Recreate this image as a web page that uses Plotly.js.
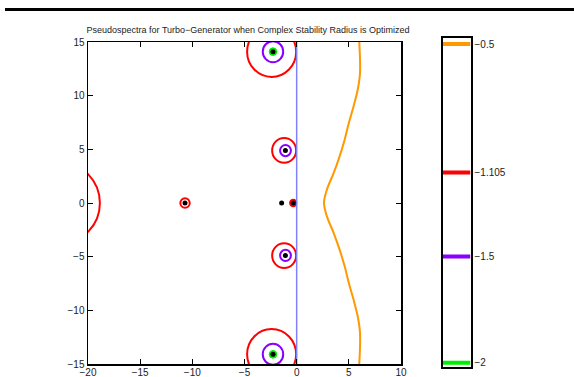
<!DOCTYPE html>
<html>
<head>
<meta charset="utf-8">
<script src="https://cdn.plot.ly/plotly-3.0.1.min.js"></script>
<style>
  html, body { margin: 0; padding: 0; background: #fff; }
  #chart { width: 574px; height: 377px; }
</style>
</head>
<body>
<div id="chart"></div>
<script>
// Contour levels (log10 of epsilon) and their colours
const levels = [-0.5, -1.105, -1.5, -2];
const levelLabels = ['\u22120.5', '\u22121.105', '\u22121.5', '\u22122'];
const levelColors = ['#ff9900', '#ff0000', '#8800ff', '#00ee00'];

// Eigenvalues of the closed-loop turbo-generator model
const eigRe = [-2.27, -2.27, -1.08, -1.08, -10.7, -1.44, -0.33];
const eigIm = [14.1, -14.1, 4.88, -4.88, 0, 0, 0];

// Small closed contours around eigenvalues: centre (re, im) and radius, per level
const redRe  = [-2.4, -2.4, -1.2, -1.2, -10.7, -0.33, -22.6];
const redIm  = [14.1, -14.1, 4.9, -4.9, 0, 0, 0];
const redR   = [2.35, 2.35, 1.15, 1.15, 0.45, 0.3, 3.74];

const purpleRe = [-2.27, -2.27, -1.07, -1.07];
const purpleIm = [14.1, -14.1, 4.88, -4.88];
const purpleR  = [0.98, 0.98, 0.52, 0.52];

const greenRe = [-2.27, -2.27];
const greenIm = [14.1, -14.1];
const greenR  = [0.36, 0.36];

// Outer epsilon = 10^-0.5 boundary
const orangeRe = [6.0, 6.07, 5.85, 5.45, 5.0, 4.6, 4.1, 3.55, 2.9, 2.62,
                  2.9, 3.55, 4.1, 4.6, 5.0, 5.45, 5.85, 6.07, 6.0];
const orangeIm = [15, 12.1, 10.55, 9.0, 7.45, 5.9, 4.3, 2.8, 1.25, 0,
                  -1.25, -2.8, -4.3, -5.9, -7.45, -9.0, -10.55, -12.1, -15];

// Imaginary axis
const axisRe = [0, 0];
const axisIm = [-15, 15];

const xTicks = [-20, -15, -10, -5, 0, 5, 10];
const yTicks = [-15, -10, -5, 0, 5, 10, 15];

const W = 574, H = 377;
const font = { family: 'Liberation Sans, Arial, Helvetica, sans-serif', size: 10, color: '#222' };

function circles(re, im, r, color, width, fill) {
  return re.map((c, i) => ({
    type: 'circle', xref: 'x', yref: 'y', layer: 'below',
    x0: c - r[i], x1: c + r[i], y0: im[i] - r[i], y1: im[i] + r[i],
    line: { color: color, width: width },
    fillcolor: fill ? color : 'rgba(0,0,0,0)'
  }));
}

const shapes = [].concat(
  circles(redRe, redIm, redR, levelColors[1], 2, false),
  circles(purpleRe, purpleIm, purpleR, levelColors[2], 2, false),
  circles(greenRe, greenIm, greenR, levelColors[3], 1, true),
  [{
    type: 'line', xref: 'paper', yref: 'paper',
    x0: 5 / W, x1: 1, y0: 1 - 9.5 / H, y1: 1 - 9.5 / H,
    line: { color: '#000', width: 3 }
  }]
);

const traces = [
  { x: orangeRe, y: orangeIm, mode: 'lines', xaxis: 'x', yaxis: 'y',
    line: { color: levelColors[0], width: 2, shape: 'spline', smoothing: 1 }, hoverinfo: 'skip' },
  { x: axisRe, y: axisIm, mode: 'lines', xaxis: 'x', yaxis: 'y',
    line: { color: '#8080ff', width: 1.5 }, hoverinfo: 'skip' },
  { x: eigRe, y: eigIm, mode: 'markers', xaxis: 'x', yaxis: 'y',
    marker: { color: '#000', size: 5 }, hoverinfo: 'skip' }
];

// Colour bar: one bar per contour level
levels.forEach((lv, i) => {
  traces.push({
    x: [0, 1], y: [lv, lv], mode: 'lines', xaxis: 'x2', yaxis: 'y2',
    line: { color: levelColors[i], width: 4 }, hoverinfo: 'skip'
  });
});

const layout = {
  width: W, height: H,
  margin: { l: 0, r: 0, t: 0, b: 0 },
  paper_bgcolor: '#fff', plot_bgcolor: '#fff',
  showlegend: false,
  font: font,
  title: {
    text: 'Pseudospectra for Turbo\u2212Generator when Complex Stability Radius is Optimized',
    font: { family: font.family, size: 9, color: '#222' },
    x: 248 / W, xanchor: 'center', xref: 'paper',
    y: 1 - 30 / H, yanchor: 'middle', yref: 'paper'
  },
  xaxis: {
    domain: [88 / W, 401 / W], anchor: 'y',
    range: [-20, 10], tickvals: xTicks,
    ticks: 'inside', ticklen: 5, tickwidth: 1, tickcolor: '#000',
    ticklabelstandoff: -2,
    showline: true, mirror: 'ticks', linecolor: '#000', linewidth: 1.5,
    showgrid: false, zeroline: false, tickfont: font
  },
  yaxis: {
    domain: [13 / H, 335 / H], anchor: 'x',
    range: [-15, 15], tickvals: yTicks,
    ticks: 'inside', ticklen: 5, tickwidth: 1, tickcolor: '#000',
    showline: true, mirror: 'ticks', linecolor: '#000', linewidth: 1.5,
    showgrid: false, zeroline: false, tickfont: font
  },
  xaxis2: {
    domain: [443 / W, 470.5 / W], anchor: 'y2',
    range: [0, 1], showticklabels: false, ticks: '',
    showline: true, mirror: true, linecolor: '#000', linewidth: 2,
    showgrid: false, zeroline: false
  },
  yaxis2: {
    domain: [10 / H, 338.7 / H], anchor: 'x2', side: 'right',
    range: [-2.02, -0.473], tickvals: levels, ticktext: levelLabels, ticks: '',
    showline: true, mirror: true, linecolor: '#000', linewidth: 2,
    showgrid: false, zeroline: false, tickfont: font
  },
  shapes: shapes
};

Plotly.newPlot('chart', traces, layout, { staticPlot: true, displayModeBar: false });
</script>
</body>
</html>
